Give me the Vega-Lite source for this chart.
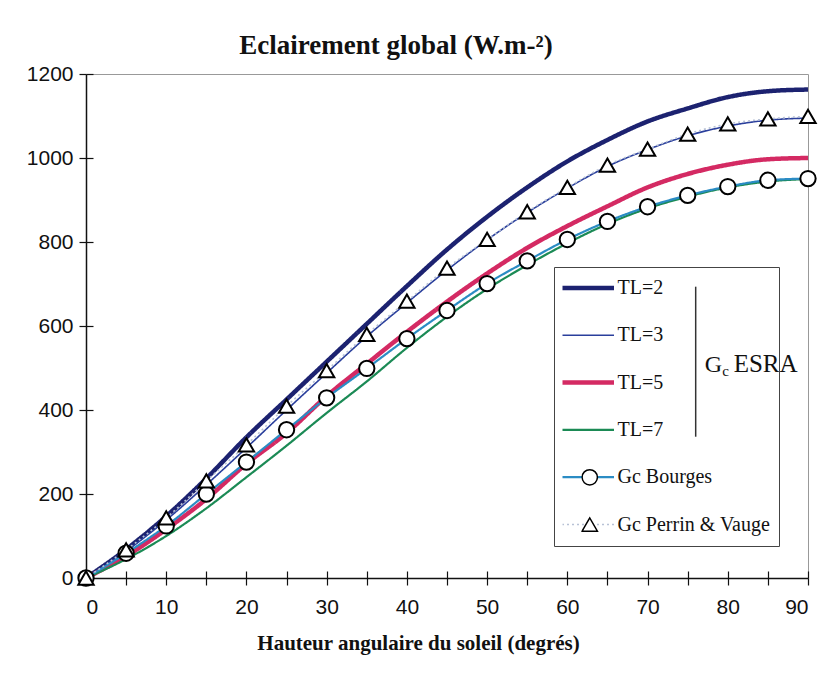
{
  "$schema": "https://vega.github.io/schema/vega-lite/v6.json",
  "width": 722,
  "height": 504,
  "autosize": {"type": "none"},
  "padding": {"left": 86, "top": 74, "right": 13, "bottom": 95},
  "background": "white",
  "title": {"text": "Eclairement global (W.m-²)", "font": "Liberation Serif", "fontSize": 27, "fontWeight": "bold", "color": "#111", "anchor": "middle", "dx": -51, "offset": 3},
  "data": {"values": [
    {"series": "TL=2", "x": 0, "y": 0}, {"series": "TL=2", "x": 5, "y": 68}, {"series": "TL=2", "x": 10, "y": 147}, {"series": "TL=2", "x": 15, "y": 237}, {"series": "TL=2", "x": 20, "y": 335}, {"series": "TL=2", "x": 25, "y": 425}, {"series": "TL=2", "x": 30, "y": 515}, {"series": "TL=2", "x": 35, "y": 605}, {"series": "TL=2", "x": 40, "y": 695}, {"series": "TL=2", "x": 45, "y": 782}, {"series": "TL=2", "x": 50, "y": 860}, {"series": "TL=2", "x": 55, "y": 930}, {"series": "TL=2", "x": 60, "y": 992}, {"series": "TL=2", "x": 65, "y": 1043}, {"series": "TL=2", "x": 70, "y": 1087}, {"series": "TL=2", "x": 75, "y": 1118}, {"series": "TL=2", "x": 80, "y": 1145}, {"series": "TL=2", "x": 85, "y": 1159}, {"series": "TL=2", "x": 90, "y": 1163},
    {"series": "TL=3", "x": 0, "y": 0}, {"series": "TL=3", "x": 5, "y": 64}, {"series": "TL=3", "x": 10, "y": 138}, {"series": "TL=3", "x": 15, "y": 222}, {"series": "TL=3", "x": 20, "y": 310}, {"series": "TL=3", "x": 25, "y": 400}, {"series": "TL=3", "x": 30, "y": 488}, {"series": "TL=3", "x": 35, "y": 575}, {"series": "TL=3", "x": 40, "y": 655}, {"series": "TL=3", "x": 45, "y": 733}, {"series": "TL=3", "x": 50, "y": 805}, {"series": "TL=3", "x": 55, "y": 870}, {"series": "TL=3", "x": 60, "y": 928}, {"series": "TL=3", "x": 65, "y": 980}, {"series": "TL=3", "x": 70, "y": 1020}, {"series": "TL=3", "x": 75, "y": 1053}, {"series": "TL=3", "x": 80, "y": 1076}, {"series": "TL=3", "x": 85, "y": 1090}, {"series": "TL=3", "x": 90, "y": 1095},
    {"series": "TL=5", "x": 0, "y": 0}, {"series": "TL=5", "x": 5, "y": 52}, {"series": "TL=5", "x": 10, "y": 116}, {"series": "TL=5", "x": 15, "y": 188}, {"series": "TL=5", "x": 20, "y": 272}, {"series": "TL=5", "x": 25, "y": 345}, {"series": "TL=5", "x": 30, "y": 433}, {"series": "TL=5", "x": 35, "y": 510}, {"series": "TL=5", "x": 40, "y": 586}, {"series": "TL=5", "x": 45, "y": 658}, {"series": "TL=5", "x": 50, "y": 725}, {"series": "TL=5", "x": 55, "y": 786}, {"series": "TL=5", "x": 60, "y": 838}, {"series": "TL=5", "x": 65, "y": 885}, {"series": "TL=5", "x": 70, "y": 930}, {"series": "TL=5", "x": 75, "y": 962}, {"series": "TL=5", "x": 80, "y": 984}, {"series": "TL=5", "x": 85, "y": 997}, {"series": "TL=5", "x": 90, "y": 1000},
    {"series": "TL=7", "x": 0, "y": 0}, {"series": "TL=7", "x": 5, "y": 45}, {"series": "TL=7", "x": 10, "y": 100}, {"series": "TL=7", "x": 15, "y": 166}, {"series": "TL=7", "x": 20, "y": 240}, {"series": "TL=7", "x": 25, "y": 315}, {"series": "TL=7", "x": 30, "y": 393}, {"series": "TL=7", "x": 35, "y": 468}, {"series": "TL=7", "x": 40, "y": 548}, {"series": "TL=7", "x": 45, "y": 622}, {"series": "TL=7", "x": 50, "y": 688}, {"series": "TL=7", "x": 55, "y": 745}, {"series": "TL=7", "x": 60, "y": 797}, {"series": "TL=7", "x": 65, "y": 843}, {"series": "TL=7", "x": 70, "y": 880}, {"series": "TL=7", "x": 75, "y": 908}, {"series": "TL=7", "x": 80, "y": 930}, {"series": "TL=7", "x": 85, "y": 944}, {"series": "TL=7", "x": 90, "y": 950},
    {"series": "Gc Bourges", "x": 0, "y": 0}, {"series": "Gc Bourges", "x": 5, "y": 59}, {"series": "Gc Bourges", "x": 10, "y": 124}, {"series": "Gc Bourges", "x": 15, "y": 200}, {"series": "Gc Bourges", "x": 20, "y": 276}, {"series": "Gc Bourges", "x": 25, "y": 353}, {"series": "Gc Bourges", "x": 30, "y": 429}, {"series": "Gc Bourges", "x": 35, "y": 499}, {"series": "Gc Bourges", "x": 40, "y": 570}, {"series": "Gc Bourges", "x": 45, "y": 637}, {"series": "Gc Bourges", "x": 50, "y": 701}, {"series": "Gc Bourges", "x": 55, "y": 755}, {"series": "Gc Bourges", "x": 60, "y": 806}, {"series": "Gc Bourges", "x": 65, "y": 849}, {"series": "Gc Bourges", "x": 70, "y": 884}, {"series": "Gc Bourges", "x": 75, "y": 911}, {"series": "Gc Bourges", "x": 80, "y": 932}, {"series": "Gc Bourges", "x": 85, "y": 947}, {"series": "Gc Bourges", "x": 90, "y": 951},
    {"series": "Gc Perrin & Vauge", "x": 0, "y": 0}, {"series": "Gc Perrin & Vauge", "x": 5, "y": 67}, {"series": "Gc Perrin & Vauge", "x": 10, "y": 143}, {"series": "Gc Perrin & Vauge", "x": 15, "y": 231}, {"series": "Gc Perrin & Vauge", "x": 20, "y": 317}, {"series": "Gc Perrin & Vauge", "x": 25, "y": 409}, {"series": "Gc Perrin & Vauge", "x": 30, "y": 494}, {"series": "Gc Perrin & Vauge", "x": 35, "y": 580}, {"series": "Gc Perrin & Vauge", "x": 40, "y": 659}, {"series": "Gc Perrin & Vauge", "x": 45, "y": 738}, {"series": "Gc Perrin & Vauge", "x": 50, "y": 806}, {"series": "Gc Perrin & Vauge", "x": 55, "y": 872}, {"series": "Gc Perrin & Vauge", "x": 60, "y": 930}, {"series": "Gc Perrin & Vauge", "x": 65, "y": 983}, {"series": "Gc Perrin & Vauge", "x": 70, "y": 1021}, {"series": "Gc Perrin & Vauge", "x": 75, "y": 1057}, {"series": "Gc Perrin & Vauge", "x": 80, "y": 1081}, {"series": "Gc Perrin & Vauge", "x": 85, "y": 1093}, {"series": "Gc Perrin & Vauge", "x": 90, "y": 1099}
  ]},
  "layer": [
    {
      "mark": {"type": "line", "interpolate": "monotone"},
      "encoding": {
        "x": {"field": "x", "type": "quantitative", "scale": {"domain": [0, 90], "nice": false},
          "axis": {"orient": "bottom", "values": [0, 5, 10, 15, 20, 25, 30, 35, 40, 45, 50, 55, 60, 65, 70, 75, 80, 85, 90], "labelExpr": "datum.value % 10 === 0 ? datum.label : ''", "title": "Hauteur angulaire du soleil  (degrés)", "tickSize": 7, "labelPadding": 11, "titleFont": "Liberation Serif", "titleFontWeight": "bold", "titleFontSize": 21, "titleColor": "#111", "titleX": 332, "titleY": 71, "titleAlign": "center", "titleBaseline": "alphabetic"}},
        "y": {"field": "y", "type": "quantitative", "scale": {"domain": [0, 1200], "nice": false},
          "axis": {"orient": "left", "values": [0, 200, 400, 600, 800, 1000, 1200], "format": "d", "title": null, "tickSize": 7, "labelPadding": 6}},
        "color": {"field": "series", "type": "nominal",
          "scale": {"domain": ["TL=2", "TL=3", "TL=5", "TL=7", "Gc Bourges", "Gc Perrin & Vauge"], "range": ["#1c2270", "#2a3f9c", "#d42a63", "#1b8a55", "#2b8cc4", "#b8c2d6"]},
          "legend": {"orient": "none", "legendX": 468, "legendY": 193, "title": null, "padding": 8.5, "rowPadding": 22.3, "clipHeight": 25, "symbolType": "stroke", "symbolSize": 2704, "symbolOffset": 15.5, "labelOffset": 19.5, "labelFont": "Liberation Serif", "labelFontSize": 20, "labelColor": "#111", "strokeColor": "#444", "labelExpr": "datum.label + '\u00a0\u00a0\u00a0\u00a0\u00a0\u00a0\u00a0\u00a0\u00a0\u00a0\u00a0'",
            "encode": {"symbols": {"update": {"size": {"value": 2704}, "shape": {"value": "stroke"}, "strokeWidth": {"signal": "datum.value === 'TL=2' || datum.value === 'TL=5' ? 4.5 : (datum.value === 'TL=7' || datum.value === 'Gc Bourges' ? 2.2 : 1.6)"}}}}}},
        "strokeDash": {"field": "series", "type": "nominal",
          "scale": {"domain": ["TL=2", "TL=3", "TL=5", "TL=7", "Gc Bourges", "Gc Perrin & Vauge"], "range": [[1, 0], [1, 0], [1, 0], [1, 0], [1, 0], [2, 3]]},
          "legend": {"orient": "none", "legendX": 468, "legendY": 193, "title": null, "padding": 8.5, "rowPadding": 22.3, "clipHeight": 25, "symbolType": "stroke", "symbolSize": 2704, "symbolOffset": 15.5, "labelOffset": 19.5, "labelFont": "Liberation Serif", "labelFontSize": 20, "labelColor": "#111", "strokeColor": "#444", "labelExpr": "datum.label + '\u00a0\u00a0\u00a0\u00a0\u00a0\u00a0\u00a0\u00a0\u00a0\u00a0\u00a0'"}},
        "strokeWidth": {"condition": [{"test": "datum.series === 'TL=2' || datum.series === 'TL=5'", "value": 4.5}, {"test": "datum.series === 'TL=7' || datum.series === 'Gc Bourges'", "value": 2.2}], "value": 1.6}
      }
    },
    {
      "transform": [{"filter": "datum.series === 'Gc Bourges' || datum.series === 'Gc Perrin & Vauge'"}],
      "mark": {"type": "point", "filled": true, "fill": "white", "stroke": "black", "strokeWidth": 2, "size": 235, "opacity": 1},
      "encoding": {
        "x": {"field": "x", "type": "quantitative", "axis": null},
        "y": {"field": "y", "type": "quantitative", "axis": null},
        "shape": {"field": "series", "type": "nominal",
          "scale": {"domain": ["Gc Bourges", "Gc Perrin & Vauge"], "range": ["circle", "triangle-up"]},
          "legend": {"orient": "none", "legendX": 495.25, "legendY": 390.8, "title": null, "padding": 0, "rowPadding": 22.3, "clipHeight": 25, "symbolSize": 235, "labelExpr": "''",
            "encode": {"symbols": {"update": {"stroke": {"value": "black"}, "strokeWidth": {"value": 2}, "fill": {"value": "white"}, "opacity": {"value": 1}}}}}}
      }
    },
    {
      "mark": {"type": "point", "opacity": 0},
      "encoding": {
        "x": {"field": "x", "type": "quantitative", "axis": {"orient": "bottom", "values": [0, 5, 10, 15, 20, 25, 30, 35, 40, 45, 50, 55, 60, 65, 70, 75, 80, 85, 90], "tickSize": -7, "labels": false, "domain": false, "title": null}},
        "y": {"field": "y", "type": "quantitative", "axis": {"orient": "left", "values": [0, 200, 400, 600, 800, 1000, 1200], "tickSize": -7, "labels": false, "domain": false, "title": null}}
      }
    },
    {
      "data": {"values": [{}]},
      "mark": {"type": "rule", "color": "#333", "strokeWidth": 1.5},
      "encoding": {
        "x": {"datum": 76.0, "type": "quantitative", "axis": null},
        "y": {"datum": 693.6, "type": "quantitative", "axis": null},
        "y2": {"datum": 336.4}
      }
    },
    {
      "data": {"values": [{}]},
      "mark": {"type": "text", "text": "G", "font": "Liberation Serif", "fontSize": 24, "align": "left", "baseline": "alphabetic", "color": "#111"},
      "encoding": {
        "x": {"datum": 77.12, "type": "quantitative", "axis": null},
        "y": {"datum": 489.8, "type": "quantitative", "axis": null}
      }
    },
    {
      "data": {"values": [{}]},
      "mark": {"type": "text", "text": "c", "font": "Liberation Serif", "fontSize": 15, "align": "left", "baseline": "alphabetic", "color": "#111", "dx": 17.5, "dy": 4},
      "encoding": {
        "x": {"datum": 77.12, "type": "quantitative", "axis": null},
        "y": {"datum": 489.8, "type": "quantitative", "axis": null}
      }
    },
    {
      "data": {"values": [{}]},
      "mark": {"type": "text", "text": "ESRA", "font": "Liberation Serif", "fontSize": 25, "align": "left", "baseline": "alphabetic", "color": "#111", "dx": 29},
      "encoding": {
        "x": {"datum": 77.12, "type": "quantitative", "axis": null},
        "y": {"datum": 489.8, "type": "quantitative", "axis": null}
      }
    }
  ],
  "resolve": {"axis": {"x": "independent", "y": "independent"}},
  "config": {
    "view": {"stroke": "#999", "strokeWidth": 1},
    "axis": {"grid": false, "domainColor": "#111", "domainWidth": 1.5, "tickColor": "#111", "tickWidth": 1.2, "labelFont": "Liberation Sans", "labelFontSize": 21, "labelColor": "#111"}
  }
}
